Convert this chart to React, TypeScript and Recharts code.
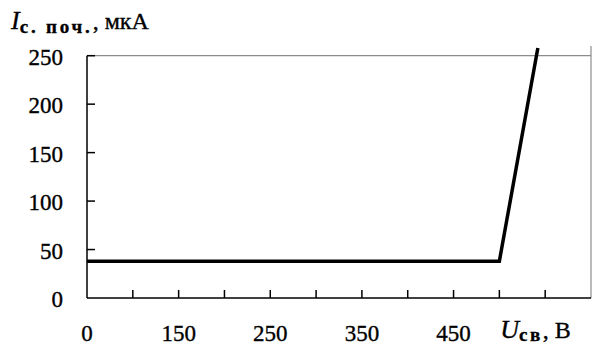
import { LineChart, Line, XAxis, YAxis, ReferenceLine } from "recharts";

// voltage (V) and initial leakage current (µA)
const volts = [0, 500, 542];
const current = [38, 38, 258];

// the x axis is broken near the origin: 0, 100, then one tick per 50 V
const xTicks = [0, 1, 2, 3, 4, 5, 6, 7, 8, 9, 10, 11];
const xLabels: Record<number, string> = { 0: "0", 2: "150", 4: "250", 6: "350", 8: "450" };
const yTicks = [0, 50, 100, 150, 200, 250];

const toPos = (v: number) => (v >= 100 ? v / 50 - 1 : v / 100);

const data = volts.map((v, i) => ({ pos: toPos(v), i: current[i] }));

const font = "'Liberation Serif', 'Times New Roman', serif";
const ink = { fill: "#000", stroke: "#000", strokeWidth: 0.35 };

function XTick(props: any) {
  const { x, y, payload } = props;
  const v = payload.value;
  return (
    <g>
      {v > 0 && v < 11 && <line x1={x} y1={y} x2={x} y2={y - 8} stroke="#000" strokeWidth={1.5} />}
      {xLabels[v] !== undefined && (
        <text x={x} y={y + 43} textAnchor="middle" fontFamily={font} fontSize={23} {...ink}>
          {xLabels[v]}
        </text>
      )}
      {v === 10 && (
        <text x={x - 45} y={y + 40} fontFamily={font} fontSize={24} {...ink}>
          <tspan fontStyle="italic" fontSize={26}>U</tspan>
          <tspan fontWeight="bold" fontSize={19} letterSpacing={2.5} dy={3}>св</tspan>
          <tspan dy={-3}>, В</tspan>
        </text>
      )}
    </g>
  );
}

function YTick(props: any) {
  const { x, y, payload } = props;
  return (
    <g>
      {payload.value > 0 && <line x1={x} y1={y} x2={x + 8} y2={y} stroke="#000" strokeWidth={1.5} />}
      <text x={x - 24} y={y + 9} textAnchor="end" fontFamily={font} fontSize={23} {...ink}>
        {payload.value}
      </text>
    </g>
  );
}

function YTitle(props: any) {
  const { viewBox } = props;
  return (
    <text x={viewBox.x + 11} y={viewBox.y - 17} fontFamily={font} fontSize={24} {...ink}>
      <tspan fontStyle="italic" fontSize={26}>I</tspan>
      <tspan fontWeight="bold" fontSize={19} letterSpacing={2.8} dy={4}>с. поч.</tspan>
      <tspan dy={-4}>, мкА</tspan>
    </text>
  );
}

export default function App() {
  return (
    <div style={{ position: "absolute", left: 0, top: 0, background: "#fff" }}>
      <LineChart width={592} height={349} data={data} margin={{ top: 46, right: 1, bottom: 0, left: 0 }}>
        <XAxis
          dataKey="pos"
          type="number"
          domain={[0, 11]}
          ticks={xTicks}
          interval={0}
          height={51}
          tickSize={0}
          tickMargin={0}
          tickLine={false}
          axisLine={{ stroke: "#000", strokeWidth: 1.5 }}
          tick={<XTick />}
        />
        <YAxis
          type="number"
          domain={[0, 260]}
          ticks={yTicks}
          width={87}
          tickSize={0}
          tickMargin={0}
          tickLine={false}
          axisLine={false}
          tick={<YTick />}
          label={<YTitle />}
        />
        <ReferenceLine y={250} stroke="#8c8c8c" strokeWidth={1.2} />
        <ReferenceLine x={11} stroke="#8c8c8c" strokeWidth={1.2} />
        <ReferenceLine segment={[{ x: 0, y: 0 }, { x: 0, y: 250 }]} stroke="#000" strokeWidth={1.5} />
        <Line
          dataKey="i"
          stroke="#000"
          strokeWidth={3.5}
          dot={false}
          isAnimationActive={false}
          strokeLinejoin="miter"
        />
      </LineChart>
    </div>
  );
}
